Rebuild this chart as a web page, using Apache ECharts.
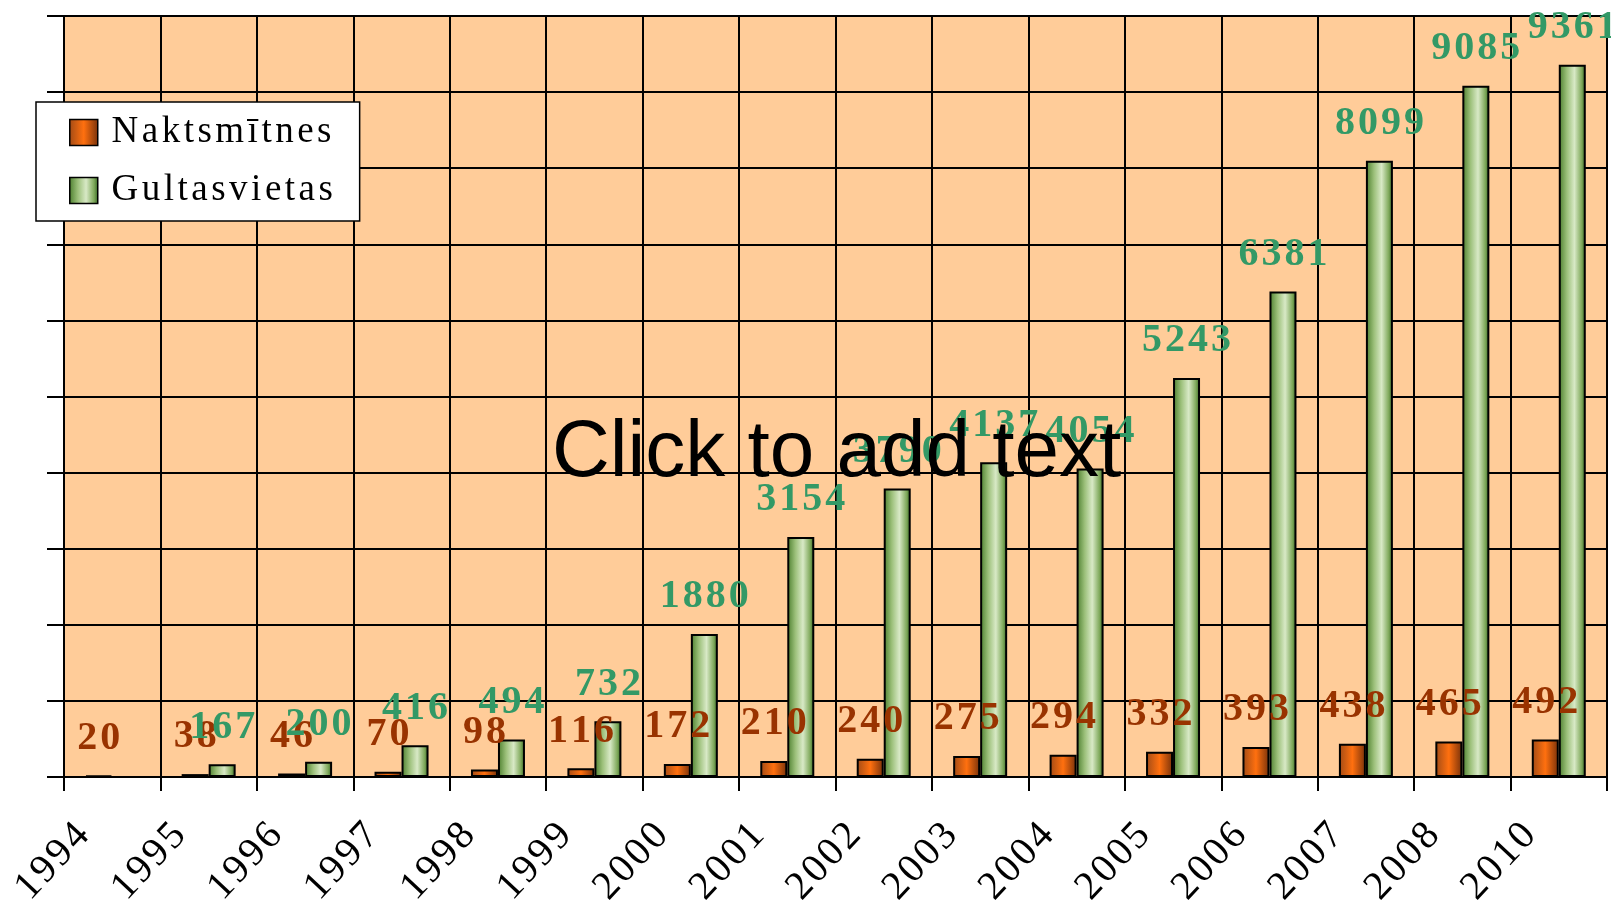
<!DOCTYPE html>
<html>
<head>
<meta charset="utf-8">
<script src="https://cdn.jsdelivr.net/npm/echarts@6/dist/echarts.min.js"></script>
<style>
  html, body { margin: 0; padding: 0; background: #fff; }
  #chart { width: 1611px; height: 901px; }
</style>
</head>
<body>
<div id="chart"></div>
<script>
  // dati
  var years = ['1994', '1995', '1996', '1997', '1998', '1999', '2000', '2001',
               '2002', '2003', '2004', '2005', '2006', '2007', '2008', '2010'];
  var naktsmitnes = [20, 38, 46, 70, 98, 116, 172, 210, 240, 275, 294, 332, 393, 438, 465, 492];
  var gultasvietas = ['-', 167, 200, 416, 494, 732, 1880, 3154, 3790, 4137, 4054, 5243, 6381, 8099, 9085, 9361];
  var seriesNames = ['Naktsmītnes', 'Gultasvietas'];

  var serif = '"Liberation Serif", "Times New Roman", serif';

  // every char in its own rich block -> letter spacing like the original
  function spaced(str, style) {
    return String(str).split('').map(function (c) {
      return '{' + style + '|' + c + '}';
    }).join('');
  }

  var orangeFill = new echarts.graphic.LinearGradient(0, 0, 1, 0, [
    { offset: 0, color: '#a04a16' },
    { offset: 0.5, color: '#ff700f' },
    { offset: 1, color: '#76300a' }
  ]);
  var greenFill = new echarts.graphic.LinearGradient(0, 0, 1, 0, [
    { offset: 0, color: '#4a7d2c' },
    { offset: 0.3, color: '#9cc07a' },
    { offset: 0.58, color: '#d8e9c6' },
    { offset: 0.85, color: '#7ea85a' },
    { offset: 1, color: '#2f6020' }
  ]);

  function barLabel(color) {
    return {
      show: true,
      position: 'top',
      distance: 17,
      formatter: function (p) { return spaced(p.value, 'd'); },
      rich: {
        d: {
          fontFamily: serif,
          fontWeight: 'bold',
          fontSize: 40,
          color: color,
          padding: [0, 1.5]
        }
      }
    };
  }

  var plotW = 1611 - 64 - 4;
  var line = { color: '#000', width: 2 };

  var chart = echarts.init(document.getElementById('chart'));
  chart.setOption({
    backgroundColor: '#fff',
    animation: false,
    grid: [
      { left: 64, width: plotW, top: 16, bottom: 124, backgroundColor: '#FFCC99', show: true, borderWidth: 0, outerBoundsMode: 'none' },
      // same plot, nudged right: only carries the year labels
      { left: 84, width: plotW, top: 16, bottom: 124, show: false, outerBoundsMode: 'none' }
    ],
    legend: {
      data: seriesNames,
      orient: 'vertical',
      left: 36,
      top: 102,
      padding: [12, 25, 12, 33],
      itemGap: 21,
      itemWidth: 28,
      itemHeight: 26,
      backgroundColor: '#fff',
      borderColor: '#000',
      borderWidth: 1.5,
      icon: 'rect',
      itemStyle: { borderColor: '#000', borderWidth: 1.5 },
      formatter: function (name) { return spaced(name, 't'); },
      textStyle: {
        padding: [0, 0, 0, 7],
        rich: {
          t: { fontFamily: serif, fontSize: 37, color: '#000', padding: [0, 1.75], lineHeight: 34 }
        }
      }
    },
    xAxis: [
      {
        type: 'category',
        gridIndex: 0,
        data: years,
        show: false,
        position: 'bottom'
      },
      {
        // boundary axis: ticks and gridlines on category borders
        type: 'value',
        gridIndex: 0,
        position: 'bottom',
        min: 0,
        max: years.length,
        interval: 1,
        axisLine: { show: true, lineStyle: line },
        axisTick: { show: true, length: 14, lineStyle: line },
        splitLine: { show: true, lineStyle: line },
        axisLabel: { show: false }
      },
      {
        // year labels
        type: 'value',
        gridIndex: 1,
        position: 'bottom',
        min: 0,
        max: years.length,
        interval: 1,
        axisLine: { show: false },
        axisTick: { show: false },
        splitLine: { show: false },
        axisLabel: {
          rotate: 47,
          margin: 51,
          formatter: function (v) { return years[v] ? spaced(years[v], 'y') : ''; },
          rich: {
            y: { fontFamily: serif, fontSize: 40, color: '#000', padding: [0, 1.5] }
          }
        }
      }
    ],
    yAxis: [
      {
        type: 'value',
        gridIndex: 0,
        min: 0,
        max: 10000,
        interval: 1000,
        axisLine: { show: true, lineStyle: line },
        axisTick: { show: true, length: 17, lineStyle: line },
        axisLabel: { show: false },
        splitLine: { show: true, lineStyle: line }
      },
      { type: 'value', gridIndex: 1, show: false }
    ],
    series: [
      {
        name: seriesNames[0],
        type: 'bar',
        xAxisIndex: 0,
        yAxisIndex: 0,
        data: naktsmitnes,
        barWidth: 27,
        barGap: '0%',
        itemStyle: { color: orangeFill, borderColor: '#000', borderWidth: 2 },
        label: barLabel('#993300')
      },
      {
        name: seriesNames[1],
        type: 'bar',
        xAxisIndex: 0,
        yAxisIndex: 0,
        data: gultasvietas,
        barWidth: 27,
        barGap: '0%',
        itemStyle: { color: greenFill, borderColor: '#000', borderWidth: 2 },
        label: barLabel('#339966')
      }
    ],
    graphic: [
      {
        type: 'text',
        left: 552,
        top: 414,
        z: 100,
        style: {
          text: 'Click to add text',
          fill: '#000',
          font: 'normal 80px "Liberation Sans", Arial, sans-serif'
        }
      }
    ]
  });
</script>
</body>
</html>
